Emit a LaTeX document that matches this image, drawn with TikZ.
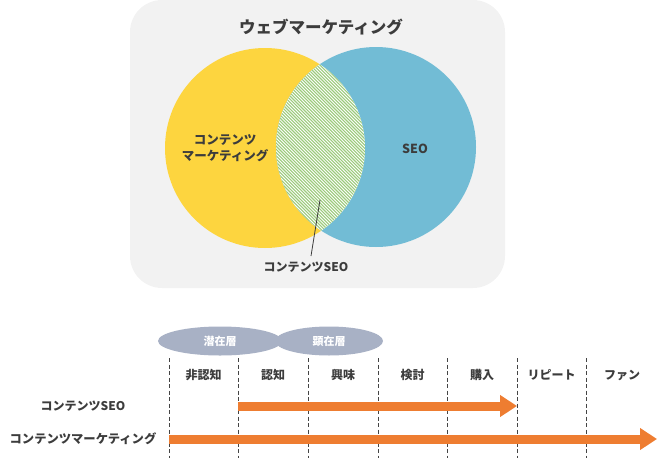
\documentclass[tikz,border=0pt]{standalone}
\usepackage{fontspec}
\setmainfont{Noto Sans CJK JP}
\usetikzlibrary{arrows.meta}
\definecolor{bggray}{HTML}{F2F2F2}
\definecolor{venyellow}{HTML}{FDD53F}
\definecolor{venblue}{HTML}{72BCD5}
\definecolor{hatchgreen}{HTML}{9CCB7C}
\definecolor{txtgray}{HTML}{3C3C3C}
\definecolor{ellgray}{HTML}{A8B1C5}
\definecolor{arrorange}{HTML}{EE7D31}
\definecolor{dashgray}{HTML}{444444}
\tikzset{
  lbl/.style={text=txtgray, font=\bfseries\fontsize{12.5pt}{16pt}\selectfont, inner sep=0pt},
  stagelbl/.style={text=txtgray, font=\bfseries\fontsize{12pt}{14pt}\selectfont, inner sep=0pt},
  elllbl/.style={text=white, font=\bfseries\fontsize{11pt}{13pt}\selectfont, inner sep=0pt},
  stagedash/.style={draw=dashgray, line width=1pt, dash pattern=on 4pt off 2.5pt},
  bigarrow/.style={draw=arrorange, line width=9pt, -{Triangle[length=17pt, width=21pt]}},
  leader/.style={draw=txtgray, line width=0.8pt},
}
\begin{document}
\begin{tikzpicture}[x=1pt,y=-1pt]
\useasboundingbox (0,0) rectangle (658,458);
% background panel
\fill[bggray, rounded corners=32pt] (130,0) rectangle (505,288);
% circles
\fill[venyellow] (265,148) circle (100);
\fill[venblue] (376,147) circle (100);
% intersection
\begin{scope}
  \clip (265,148) circle (100);
  \clip (376,147) circle (100);
  \fill[white] (270,40) rectangle (370,260);
  \foreach \i in {-220,-216.8,...,320} {
    \draw[hatchgreen, line width=1.1pt] (150+\i,40) -- (150+\i+240,280);
  }
\end{scope}
% texts in venn
\node[text=txtgray, font=\bfseries\fontsize{16.5pt}{18pt}\selectfont, inner sep=0pt] (title) at (321,27) {ウェブマーケティング};
\node[lbl, align=center] (cm) at (225,148) {コンテンツ\\マーケティング};
\node[lbl] (seo) at (415,149) {SEO};
\node[lbl, font=\bfseries\fontsize{12pt}{14pt}\selectfont] (csLabel) at (306,267) {コンテンツSEO};
\coordinate (csPt) at (320,200);
\coordinate (csFoot) at (311,256);
\draw[leader] (csFoot) -- (csPt);
% ellipses
\fill[ellgray] (220,341) ellipse (62 and 14.5);
\fill[ellgray] (329,341) ellipse (54 and 14.5);
\node[elllbl] (e1) at (220,341) {潜在層};
\node[elllbl] (e2) at (329,341) {顕在層};
% dashed stage lines
\foreach \x/\n in {169/d1,238/d2,308/d3,378/d4,447/d5,517/d6,586/d7} {
  \coordinate (\n t) at (\x,358);
  \coordinate (\n b) at (\x,458);
  \draw[stagedash] (\n t) -- (\n b);
}
% stage labels
\node[stagelbl] (s1) at (203.5,375) {非認知};
\node[stagelbl] (s2) at (273,375) {認知};
\node[stagelbl] (s3) at (343,375) {興味};
\node[stagelbl] (s4) at (412.5,375) {検討};
\node[stagelbl] (s5) at (482,375) {購入};
\node[stagelbl] (s6) at (551.5,375) {リピート};
\node[stagelbl] (s7) at (622,375) {ファン};
% row labels
\node[lbl, font=\bfseries\fontsize{12pt}{14pt}\selectfont] (r1) at (83,406) {コンテンツSEO};
\node[lbl, font=\bfseries\fontsize{12.3pt}{14pt}\selectfont] (r2) at (83,439) {コンテンツマーケティング};
% arrows
\coordinate (a1s) at (238,406);
\coordinate (a1e) at (517,406);
\coordinate (a2s) at (169,439);
\coordinate (a2e) at (657,439);
\draw[bigarrow] (a1s) -- (a1e);
\draw[bigarrow] (a2s) -- (a2e);
\end{tikzpicture}
\end{document}
